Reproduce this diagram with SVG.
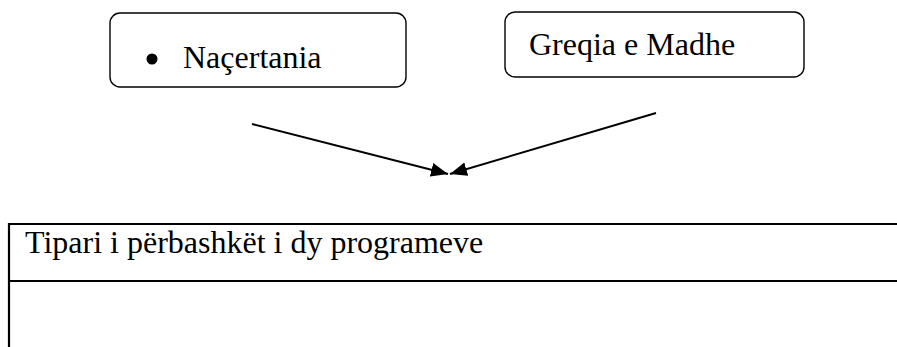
<svg xmlns="http://www.w3.org/2000/svg" width="897" height="347" viewBox="0 0 897 347">
<style>
.box{fill:#fff;stroke:#000;stroke-width:1.4}
.t{font-family:"Liberation Serif","Times New Roman",serif;font-size:32px;fill:#000}
.c{stroke:#000;stroke-width:2;fill:none}
.tl{stroke:#000;stroke-width:2.2;fill:none}
</style>
<defs>
<marker id="ah" viewBox="0 0 17 14" refX="17" refY="7" markerWidth="17" markerHeight="14" markerUnits="userSpaceOnUse" orient="auto">
<path d="M0,0 L17,7 L0,14 Z" fill="#000"/>
</marker>
</defs>
<rect width="897" height="347" fill="#fff"/>
<g id="node-nacertania">
<rect class="box" x="110" y="13" width="296" height="74" rx="10"/>
<circle cx="152" cy="59" r="5.5" fill="#000"/>
<text class="t" x="183" y="68">Naçertania</text>
</g>
<g id="node-greqia">
<rect class="box" x="505" y="12" width="299" height="65" rx="10"/>
<text class="t" x="529" y="55">Greqia e Madhe</text>
</g>
<g id="connectors">
<line class="c" x1="252" y1="124" x2="448" y2="174" marker-end="url(#ah)"/>
<line class="c" x1="656" y1="113" x2="450" y2="174" marker-end="url(#ah)"/>
</g>
<g id="node-table">
<line class="tl" x1="8" y1="224" x2="897" y2="224"/>
<line class="tl" x1="8" y1="281" x2="897" y2="281"/>
<line class="tl" x1="9" y1="223" x2="9" y2="347"/>
<text class="t" x="25" y="253">Tipari i përbashkët i dy programeve</text>
</g>
</svg>
